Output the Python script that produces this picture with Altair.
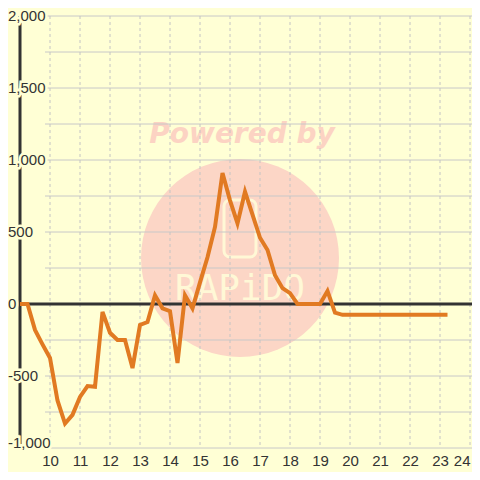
import altair as alt
import pandas as pd

# ---- data ----
x_vals = [9.0, 9.25, 9.5, 9.75, 10.0, 10.25, 10.5, 10.75, 11.0, 11.25, 11.5, 11.75,
          12.0, 12.25, 12.5, 12.75, 13.0, 13.25, 13.5, 13.75, 14.0, 14.25, 14.5, 14.75,
          15.0, 15.25, 15.5, 15.75, 16.0, 16.25, 16.5, 16.75, 17.0, 17.25, 17.5, 17.75,
          18.0, 18.25, 18.5, 18.75, 19.0, 19.25, 19.5, 19.75, 20.0, 20.25, 20.5, 20.75,
          21.0, 21.25, 21.5, 21.75, 22.0, 22.25, 22.5, 22.75, 23.0, 23.25]
y_vals = [0, 0, -180, -280, -375, -670, -830, -770, -645, -570, -575, -55,
          -200, -250, -250, -445, -145, -125, 60, -30, -50, -410, 60, -30,
          150, 325, 535, 910, 720, 560, 780, 620, 460, 375, 200, 110,
          75, 0, 0, 0, 0, 90, -60, -75, -75, -75, -75, -75,
          -75, -75, -75, -75, -75, -75, -75, -75, -75, -75]

x_ticks = [10, 11, 12, 13, 14, 15, 16, 17, 18, 19, 20, 21, 22, 23, 24]
y_label_vals = [2000, 1500, 1000, 500, 0, -500]
y_label_text = ["2,000", "1,500", "1,000", "500", "0", "-500"]
y_bottom_val = [-1000]
y_bottom_text = ["-1,000"]
h_grid_vals = [2000, 1750, 1500, 1250, 1000, 750, 500, 250, -250, -500, -750, -1000]

BG = "#FFFFD5"
W, H = 452, 432
X_MIN, X_MAX = 9, 9 + W / 30
Y_MIN, Y_MAX = -1000, 2000
xs = alt.Scale(domain=[X_MIN, X_MAX], nice=False, zero=False)
ys = alt.Scale(domain=[Y_MIN, Y_MAX], nice=False, zero=False)
XAX = alt.Axis(values=x_ticks, grid=False, domain=False, ticks=False, title=None,
               labelFont="Liberation Sans", labelFontSize=15, labelColor="#333333",
               labelPadding=5, format="d", labelOverlap=False, labelFlush=5)

line_df = pd.DataFrame({"x": x_vals, "y": y_vals})
one = pd.DataFrame({"t": ["Powered by"]})
logo = pd.DataFrame({"t": ["RAPiDO"]})
hg = pd.DataFrame({"v": h_grid_vals})
vg = pd.DataFrame({"x": x_ticks, "a": [Y_MAX] * len(x_ticks), "b": [Y_MIN] * len(x_ticks)})
axis_df = pd.DataFrame({"x": [X_MIN], "a": [Y_MIN], "b": [Y_MAX]})
zero_df = pd.DataFrame({"x": [X_MIN], "x2": [X_MAX], "y": [0]})
lab = pd.DataFrame({"v": y_label_vals, "t": y_label_text})
labb = pd.DataFrame({"v": y_bottom_val, "t": y_bottom_text})

circle = alt.Chart(one).mark_point(shape="circle", filled=True, size=39204,
                                   color="#FCD6C6", opacity=1).encode(
    x=alt.value(220), y=alt.value(242))

powered = alt.Chart(one).mark_text(font="DejaVu Sans", fontWeight="bold", fontStyle="italic",
                                   fontSize=28, color="#FCD3C3", align="center",
                                   baseline="middle").encode(
    x=alt.value(222), y=alt.value(119), text="t:N")

phone = alt.Chart(one).mark_rect(cornerRadius=6, fillOpacity=0, stroke="#FFF8D6",
                                 strokeWidth=3).encode(
    x=alt.value(204), x2=alt.value(236), y=alt.value(184), y2=alt.value(241))

logo_text = alt.Chart(logo).mark_text(font="DejaVu Sans Mono", fontSize=36, color="#FFF8D6",
                                      align="center", baseline="middle").encode(
    x=alt.value(220), y=alt.value(273), text="t:N")

hgrid = alt.Chart(hg).mark_rule(color="#C8C8C8", strokeWidth=1).encode(
    y=alt.Y("v:Q", scale=ys, axis=None), x=alt.value(25), x2=alt.value(W))

vgrid = alt.Chart(vg).mark_rule(color="#C4C4C4", strokeWidth=1, strokeDash=[3, 3]).encode(
    x=alt.X("x:Q", scale=xs, axis=XAX),
    y=alt.Y("a:Q", scale=ys, axis=None), y2="b:Q")

yaxis_line = alt.Chart(axis_df).mark_rule(color="#333333", strokeWidth=3).encode(
    x=alt.X("x:Q", scale=xs, axis=XAX),
    y=alt.Y("a:Q", scale=ys, axis=None), y2="b:Q")

zero_line = alt.Chart(zero_df).mark_rule(color="#333333", strokeWidth=3).encode(
    y=alt.Y("y:Q", scale=ys, axis=None),
    x=alt.X("x:Q", scale=xs, axis=XAX), x2="x2:Q")

def labels(df, baseline, halo):
    kw = dict(font="Liberation Sans", fontSize=15, align="left", baseline=baseline)
    if halo:
        kw.update(color=BG, stroke=BG, strokeWidth=5)
    else:
        kw.update(color="#333333")
    return alt.Chart(df).mark_text(**kw).encode(
        x=alt.value(-12), y=alt.Y("v:Q", scale=ys, axis=None), text="t:N")

line = alt.Chart(line_df).mark_line(color="#E17A22", strokeWidth=4).encode(
    x=alt.X("x:Q", scale=xs, axis=XAX),
    y=alt.Y("y:Q", scale=ys, axis=None),
)

chart = alt.layer(
    circle, powered, phone, logo_text, hgrid, vgrid, yaxis_line, zero_line,
    labels(lab, "middle", True), labels(labb, "alphabetic", True),
    labels(lab, "middle", False), labels(labb, "alphabetic", False),
    line,
).properties(
    width=W, height=H, background=BG,
    autosize=alt.AutoSizeParams(type="none"),
    padding={"left": 12, "top": 8, "right": 0, "bottom": 24},
).configure_view(stroke=None)

chart.save("out.html", embed_options={"renderer": "svg", "actions": False})
